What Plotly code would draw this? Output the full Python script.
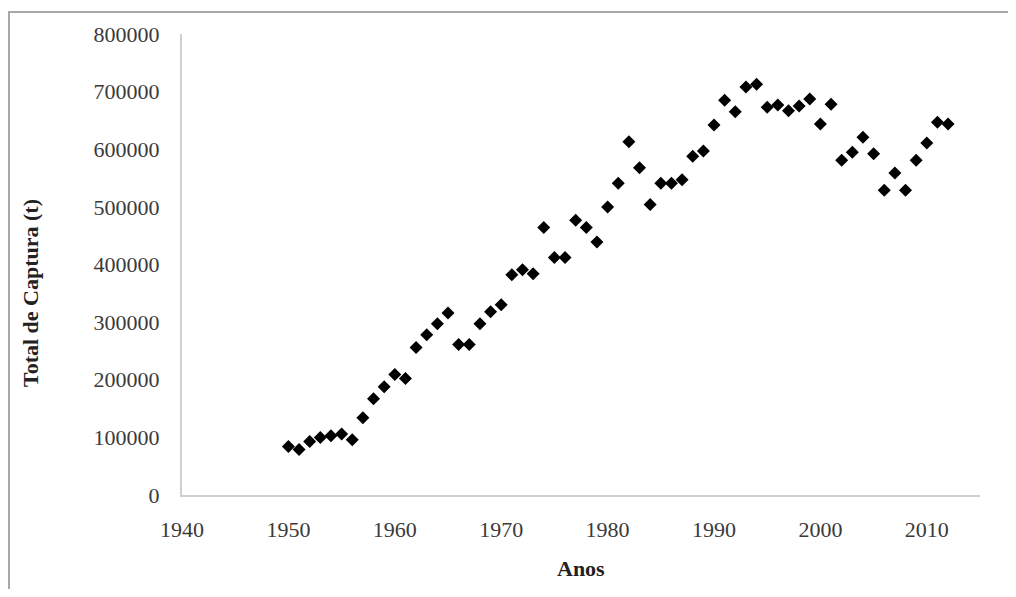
import plotly.graph_objects as go

anos = list(range(1950, 2013))
captura = [
    84000, 79000, 93000, 100000, 103000, 106000, 96000, 134000, 167000, 188000,
    209000, 202000, 256000, 278000, 297000, 316000, 261000, 261000, 297000, 318000,
    330000, 382000, 391000, 384000, 464000, 412000, 412000, 477000, 464000, 439000,
    500000, 541000, 613000, 568000, 504000, 541000, 541000, 547000, 588000, 597000,
    642000, 685000, 665000, 708000, 713000, 673000, 677000, 667000, 675000, 687000,
    644000, 678000, 581000, 595000, 621000, 592000, 529000, 559000, 529000, 581000,
    611000, 647000, 644000,
]
x_ticks = [1940, 1950, 1960, 1970, 1980, 1990, 2000, 2010]
y_ticks = [0, 100000, 200000, 300000, 400000, 500000, 600000, 700000, 800000]

FONT = "Liberation Serif, Times New Roman, serif"

fig = go.Figure()
fig.add_trace(go.Scatter(
    x=anos, y=captura, mode="markers",
    marker=dict(symbol="diamond", size=10, color="black", line=dict(width=0)),
    showlegend=False,
))

fig.update_layout(
    width=1000, height=581,
    paper_bgcolor="white", plot_bgcolor="white",
    margin=dict(l=174, r=28, t=26, b=94),
    font=dict(family=FONT, size=22, color="#3a3a3a"),
    xaxis=dict(
        range=[1940, 2015], tickvals=x_ticks, ticktext=[str(v) for v in x_ticks],
        showgrid=False, zeroline=False, showline=True, linecolor="#cfcfcf", linewidth=2,
        ticks="", ticklabelstandoff=14,
        tickfont=dict(family=FONT, size=22, color="#3a3a3a"),
    ),
    yaxis=dict(
        range=[0, 800000], tickvals=y_ticks, ticktext=[str(v) for v in y_ticks],
        showgrid=False, zeroline=False, showline=True, linecolor="#cfcfcf", linewidth=2,
        ticks="", ticklabelstandoff=16,
        tickfont=dict(family=FONT, size=22, color="#3a3a3a"),
    ),
    shapes=[
        dict(type="rect", xref="paper", yref="paper",
             x0=(9 - 182) / 798, x1=1.1, y0=(495 - 592) / 461, y1=(495 - 12) / 461,
             line=dict(color="#a8a8a8", width=2), layer="below"),
    ],
    annotations=[
        dict(text="<b>Anos</b>", xref="paper", yref="paper",
             x=0.5, y=(495 - 568) / 461, xanchor="center", yanchor="middle",
             showarrow=False, font=dict(family=FONT, size=22, color="#222222")),
        dict(text="<b>Total de Captura (t)</b>", xref="paper", yref="paper",
             x=(30 - 182) / 798, y=(495 - 293) / 461, xanchor="center", yanchor="middle",
             textangle=-90, showarrow=False, font=dict(family=FONT, size=22, color="#222222")),
    ],
)

fig.write_html("out.html")
